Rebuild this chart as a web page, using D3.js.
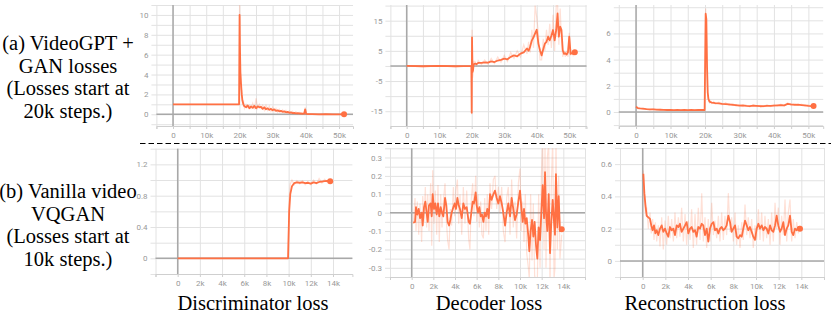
<!DOCTYPE html>
<html>
<head>
<meta charset="utf-8">
<script src="https://cdn.jsdelivr.net/npm/d3@7"></script>
<style>
  body { margin: 0; background: #fff; }
  .tick text { font-family: Roboto, sans-serif; font-size: 8px; fill: #999; }
  .serif { font-family: "Liberation Serif", "Times New Roman", serif; fill: #000; }
</style>
</head>
<body>
<svg id="chart" width="831" height="319"></svg>
<script>
// ---- data (steps in thousands) ----
// (a) VideoGPT + GAN losses
var discGanSteps = [0, 5, 10, 15, 19.9, 20.05, 20.15, 20.3, 20.5, 20.7, 20.9, 21.2, 21.5,
  22, 22.5, 23, 23.5, 24, 24.5, 25, 25.5, 26, 26.5, 27, 27.5, 28, 28.5, 29, 29.5, 30, 30.5,
  31, 31.5, 32, 32.5, 33, 33.5, 34, 34.5, 35, 35.5, 36, 36.5, 37, 37.5, 38, 38.5, 39, 39.5,
  39.8, 40.1, 41, 42, 44, 46, 48, 50, 51.5];
var discGanSmooth = [1.0, 1.0, 1.0, 1.0, 1.0, 10.0, 7.0, 4.2, 3.0, 2.0, 1.4, 1.0, 0.8,
  0.7, 0.9, 0.6, 0.8, 0.65, 0.85, 0.6, 0.8, 0.7, 0.75, 0.55, 0.7, 0.5, 0.6, 0.45, 0.55, 0.4, 0.5,
  0.35, 0.4, 0.3, 0.35, 0.25, 0.3, 0.2, 0.25, 0.15, 0.2, 0.12, 0.15, 0.1, 0.12, 0.08, 0.1, 0.05, 0.08,
  0.5, 0.05, 0.02, 0.01, 0.0, 0.01, 0.0, 0.0, 0.0];
var discGanRaw = [1.0, 1.0, 1.0, 1.0, 1.0, 11.5, 6.0, 4.5, 2.5, 2.4, 1.0, 1.4, 0.6,
  1.0, 0.7, 0.9, 0.6, 1.1, 0.5, 1.6, 0.6, 1.0, 0.6, 0.9, 0.4, 0.9, 0.4, 0.8, 0.3, 0.7, 0.3,
  0.6, 0.2, 0.5, 0.2, 0.45, 0.15, 0.4, 0.1, 0.35, 0.08, 0.3, 0.05, 0.25, 0.03, 0.2, 0.02, 0.15, 0.0,
  0.7, 0.0, 0.05, 0.0, 0.02, 0.0, 0.01, 0.0, 0.0];

var decGanSteps = [0, 5, 10, 15, 19.9, 20.0, 20.1, 20.25, 20.4, 20.6, 21, 21.5, 22,
  23, 24, 25, 26, 27, 28, 29, 30, 31, 32, 33, 34, 35, 36, 37,
  37.5, 38, 38.5, 39, 39.5, 40, 40.5, 41, 41.5, 42, 42.5, 43, 43.5, 44, 44.5, 45, 45.5, 46,
  46.4, 46.8, 47.2, 47.6, 48, 48.4, 48.8, 49.2, 49.6, 50, 50.4, 50.8, 51.2, 51.7];
var decGanSmooth = [0, -0.1, 0, -0.1, 0, -15.5, 9.5, -2, -1.5, 0.5, 0.8, 0.6, 1.0,
  1.0, 1.2, 1.1, 1.5, 1.3, 1.8, 2.0, 2.4, 2.2, 3.0, 3.5, 3.2, 4.1, 4.5, 5.8,
  5.0, 6.5, 8.5, 9.5, 10.8, 12, 7.4, 5.2, 3.5, 5.5, 7.4, 8.0, 9.7, 8.5, 10, 11.9, 8.5, 12,
  17.4, 9.7, 13, 12, 5.2, 4.0, 4.2, 3.8, 4.5, 9.7, 4.0, 4.2, 4.0, 4.5];
var decGanRaw = [0, -0.2, 0.1, -0.2, 0, -16, 12, -4, -3, 1.5, 1.5, 0.2, 1.8,
  0.5, 2, 0.6, 2.5, 0.8, 3, 1.2, 3.5, 1.5, 4.5, 2.5, 5, 3, 7, 4,
  8, 4.5, 12, 6, 20, 16, 11, 2, 2, 9, 5, 12, 7, 14, 6, 17, 5, 20,
  21, 7, 19, 9, 3, 5, 3, 5, 3, 11, 3.5, 5, 3.5, 5];

var recGanSteps = [0, 0.5, 1, 2, 3, 4, 5, 6, 7, 8, 9, 10, 11, 12, 13, 14, 15, 16, 17, 18, 19,
  19.9, 20.2, 20.4, 20.6, 20.8, 21.0, 21.3, 21.6, 22, 22.5,
  23, 24, 25, 26, 27, 28, 29, 30, 31, 32, 33, 34, 35, 36, 37, 38, 39, 40, 41, 42, 43, 44,
  45, 46, 47, 48, 49, 50, 51, 51.5];
var recGanSmooth = [0.4, 0.3, 0.28, 0.25, 0.22, 0.2, 0.2, 0.18, 0.17, 0.16, 0.15, 0.15, 0.14,
  0.15, 0.14, 0.15, 0.14, 0.15, 0.14, 0.15, 0.15,
  0.15, 7.5, 7.1, 3.5, 1.5, 1.0, 0.8, 0.75, 0.72, 0.7,
  0.68, 0.65, 0.62, 0.6, 0.58, 0.55, 0.52, 0.48, 0.5, 0.46, 0.45, 0.48, 0.46, 0.44, 0.45, 0.47,
  0.46, 0.48, 0.5, 0.52, 0.5, 0.62, 0.58, 0.55, 0.56, 0.53, 0.5, 0.47, 0.45, 0.46];
var recGanRaw = [0.45, 0.25, 0.32, 0.2, 0.26, 0.17, 0.23, 0.15, 0.2, 0.13, 0.18, 0.12, 0.17,
  0.12, 0.18, 0.11, 0.17, 0.12, 0.18, 0.12, 0.17,
  0.14, 7.9, 6.5, 2.8, 1.2, 0.9, 0.7, 0.85, 0.65, 0.8,
  0.6, 0.75, 0.55, 0.7, 0.5, 0.65, 0.45, 0.55, 0.42, 0.52, 0.4, 0.55, 0.42, 0.5, 0.4, 0.55,
  0.42, 0.55, 0.45, 0.6, 0.45, 0.7, 0.5, 0.65, 0.5, 0.6, 0.45, 0.55, 0.42, 0.5];

// (b) Vanilla video VQGAN
var discVqSteps = [0, 2, 4, 6, 8, 9.95, 10.05, 10.15, 10.3, 10.5, 10.75, 11, 11.25, 11.5,
  11.75, 12, 12.25, 12.5, 12.75, 13, 13.25, 13.5, 13.75];
var discVqSmooth = [0, 0, 0, 0, 0, 0, 0.6, 0.82, 0.92, 0.96, 0.97, 0.965, 0.97, 0.96,
  0.965, 0.955, 0.97, 0.96, 0.975, 0.98, 0.985, 0.99, 0.985];
var discVqRaw = [0, 0, 0, 0, 0, 0, 0.75, 0.95, 1.0, 0.94, 0.99, 0.95, 0.99, 0.94,
  0.98, 0.94, 1.0, 0.95, 1.02, 0.96, 1.01, 0.97, 1.0];

var decVqSteps = [0.15, 0.31, 0.40, 0.52, 0.65, 0.77, 0.92, 1.02, 1.14, 1.26,
  1.38, 1.48, 1.60, 1.75, 1.85, 1.94, 2.06, 2.18, 2.31, 2.43,
  2.55, 2.68, 2.80, 2.92, 3.08, 3.20, 3.32, 3.45, 3.57, 3.69,
  3.85, 3.97, 4.09, 4.22, 4.34, 4.46, 4.62, 4.77, 4.92, 5.08,
  5.26, 5.38, 5.51, 5.63, 5.75, 5.91, 6.00, 6.12, 6.25, 6.37,
  6.49, 6.62, 6.74, 6.86, 6.98, 7.11, 7.23, 7.38, 7.54, 7.69,
  7.85, 8.00, 8.15, 8.31, 8.46, 8.62, 8.77, 8.92, 9.08, 9.23,
  9.38, 9.54, 9.69, 9.85, 10.00, 10.12, 10.25, 10.37, 10.49, 10.62,
  10.77, 10.86, 10.98, 11.11, 11.23, 11.35, 11.48, 11.60, 11.72, 11.85,
  11.97, 12.09, 12.22, 12.31, 12.40, 12.52, 12.65, 12.77, 12.89, 13.02,
  13.14, 13.23, 13.32, 13.45, 13.57, 13.69, 13.85];
var decVqSmooth = [-0.055, -0.05, 0.03, -0.01, 0.02, -0.03, 0.0, -0.07, 0.03, 0.06,
  0.0, -0.05, 0.04, 0.05, -0.02, 0.1, 0.02, 0.05, -0.01, 0.05,
  -0.02, 0.03, 0.0, -0.02, 0.08, 0.04, -0.05, -0.07, -0.04, 0.0,
  0.03, 0.05, 0.02, 0.08, 0.04, 0.02, -0.03, 0.05, 0.02, 0.03,
  -0.05, -0.06, 0.0, 0.06, 0.05, 0.11, 0.04, 0.0, 0.03, -0.02,
  -0.01, -0.05, 0.0, -0.02, 0.02, -0.03, 0.1, 0.07, 0.1, 0.12,
  0.08, 0.05, 0.09, 0.05, 0.0, -0.07, 0.0, 0.05, -0.02, 0.08,
  0.02, -0.04, -0.01, 0.06, 0.12, 0.03, -0.05, 0.02, -0.06, -0.03,
  -0.13, -0.21, -0.1, -0.04, -0.13, -0.05, -0.18, -0.25, -0.08, -0.15,
  0.0, 0.15, -0.03, 0.22, 0.0, -0.1, 0.1, -0.22, -0.05, 0.07,
  -0.05, -0.12, 0.21, -0.08, 0.09, -0.1, -0.09];
var decVqRaw = [-0.06, 0.08, -0.1, 0.06, -0.12, 0.05, -0.16, 0.09, -0.05, 0.14,
  -0.08, 0.1, -0.1, 0.16, -0.18, 0.23, -0.06, 0.12, -0.12, 0.15,
  -0.16, 0.1, -0.08, 0.06, 0.16, -0.04, -0.15, -0.2, 0.02, -0.07,
  0.14, -0.02, 0.12, 0.18, -0.06, 0.1, -0.12, 0.14, -0.06, 0.12,
  -0.14, -0.2, 0.08, 0.16, -0.02, 0.2, -0.05, 0.1, -0.08, 0.06,
  -0.12, -0.14, 0.08, -0.1, 0.1, -0.12, 0.16, 0.02, 0.18, 0.2,
  0.02, 0.14, 0.0, 0.14, -0.1, -0.16, 0.08, 0.14, -0.12, 0.18,
  -0.08, 0.06, -0.14, 0.16, 0.24, -0.1, 0.06, -0.16, 0.1, -0.22,
  -0.3, -0.36, 0.1, -0.26, 0.05, -0.34, -0.4, -0.38, 0.1, -0.3,
  0.2, 0.4, -0.2, 0.4, -0.3, 0.3, 0.38, -0.4, 0.15, 0.4,
  -0.36, -0.3, 0.4, -0.2, 0.2, -0.25, -0.12];

var recVqSteps = [0.06, 0.15, 0.24, 0.35, 0.50, 0.65, 0.76, 0.88, 1.00, 1.12,
  1.24, 1.38, 1.53, 1.68, 1.82, 1.97, 2.12, 2.26, 2.41, 2.56,
  2.71, 2.85, 3.00, 3.15, 3.29, 3.44, 3.59, 3.74, 3.88, 4.03,
  4.18, 4.32, 4.47, 4.62, 4.76, 4.91, 5.06, 5.21, 5.35, 5.50,
  5.65, 5.79, 5.94, 6.09, 6.24, 6.38, 6.53, 6.68, 6.82, 6.97,
  7.12, 7.26, 7.41, 7.56, 7.71, 7.85, 8.00, 8.15, 8.29, 8.44,
  8.59, 8.74, 8.88, 9.03, 9.18, 9.32, 9.47, 9.62, 9.76, 9.91,
  10.06, 10.21, 10.35, 10.50, 10.65, 10.79, 10.94, 11.09, 11.24, 11.38,
  11.53, 11.68, 11.82, 11.97, 12.12, 12.26, 12.41, 12.56, 12.71, 12.85,
  13.00, 13.15, 13.29, 13.44, 13.59, 13.74, 13.88];
var recVqSmooth = [0.54, 0.42, 0.35, 0.28, 0.27, 0.26, 0.22, 0.19, 0.22, 0.17,
  0.19, 0.16, 0.2, 0.22, 0.18, 0.2, 0.17, 0.15, 0.21, 0.19,
  0.2, 0.16, 0.22, 0.21, 0.23, 0.18, 0.2, 0.22, 0.24, 0.17,
  0.2, 0.21, 0.18, 0.19, 0.15, 0.21, 0.2, 0.23, 0.22, 0.16,
  0.2, 0.12, 0.2, 0.23, 0.24, 0.19, 0.2, 0.17, 0.2, 0.21,
  0.19, 0.2, 0.22, 0.28, 0.24, 0.18, 0.2, 0.22, 0.15, 0.14,
  0.16, 0.15, 0.2, 0.25, 0.22, 0.19, 0.21, 0.18, 0.15, 0.13,
  0.2, 0.23, 0.2, 0.22, 0.19, 0.21, 0.2, 0.17, 0.22, 0.19,
  0.18, 0.22, 0.28, 0.22, 0.18, 0.2, 0.24, 0.16, 0.2, 0.22,
  0.28, 0.18, 0.16, 0.2, 0.19, 0.21, 0.2];
var recVqRaw = [0.56, 0.38, 0.3, 0.33, 0.2, 0.3, 0.17, 0.26, 0.13, 0.24,
  0.12, 0.22, 0.09, 0.27, 0.07, 0.25, 0.1, 0.28, 0.14, 0.26,
  0.12, 0.3, 0.14, 0.27, 0.15, 0.33, 0.12, 0.29, 0.1, 0.25,
  0.13, 0.32, 0.08, 0.29, 0.1, 0.33, 0.13, 0.42, 0.12, 0.27,
  0.08, 0.26, 0.12, 0.36, 0.16, 0.25, 0.14, 0.28, 0.12, 0.3,
  0.13, 0.28, 0.16, 0.42, 0.18, 0.27, 0.12, 0.3, 0.1, 0.22,
  0.08, 0.24, 0.13, 0.35, 0.16, 0.27, 0.14, 0.26, 0.08, 0.22,
  0.13, 0.32, 0.13, 0.3, 0.12, 0.28, 0.14, 0.26, 0.1, 0.3,
  0.12, 0.36, 0.2, 0.33, 0.1, 0.28, 0.16, 0.38, 0.12, 0.3,
  0.38, 0.12, 0.26, 0.14, 0.24, 0.17, 0.22];

// tick labels
var topXLabels = [0, 10, 20, 30, 40, 50];
var bottomXLabels = [0, 2, 4, 6, 8, 10, 12, 14];
var discGanYLabels = [0, 2, 4, 6, 8, 10];
var decGanYLabels = [-15, -5, 5, 15];
var recGanYLabels = [0, 2, 4, 6];
var discVqYLabels = [0, 0.4, 0.8, 1.2];
var decVqYLabels = [-0.3, -0.2, -0.1, 0, 0.1, 0.2, 0.3];
var recVqYLabels = [0, 0.2, 0.4, 0.6];

var rowLabelsA = ["(a) VideoGPT +", "GAN losses", "(Losses start at", "20k steps.)"];
var rowLabelsB = ["(b) Vanilla video", "VQGAN", "(Losses start at", "10k steps.)"];
var titles = ["Discriminator loss", "Decoder loss", "Reconstruction loss"];

var color = "#ff7043";

var svg = d3.select("#chart");

var panels = [
  { steps: discGanSteps, smooth: discGanSmooth, raw: discGanRaw, xl: topXLabels, xStep: 5,
    yl: discGanYLabels, yStep: 1, left: 156.4, right: 353, top: 5, bottom: 126,
    xDom: [-5, 54.2], yDom: [-1.18, 11.0] },
  { steps: decGanSteps, smooth: decGanSmooth, raw: decGanRaw, xl: topXLabels, xStep: 5,
    yl: decGanYLabels, yStep: 5, left: 390.4, right: 586.5, top: 5, bottom: 126,
    xDom: [-5, 55.3], yDom: [-19.9, 20.2] },
  { steps: recGanSteps, smooth: recGanSmooth, raw: recGanRaw, xl: topXLabels, xStep: 5,
    yl: recGanYLabels, yStep: 1, left: 618.8, right: 823.2, top: 5, bottom: 126,
    xDom: [-5, 54.3], yDom: [-1.07, 8.17] },
  { steps: discVqSteps, smooth: discVqSmooth, raw: discVqRaw, xl: bottomXLabels, xStep: 2,
    yl: discVqYLabels, yStep: 0.2, left: 155.5, right: 352.4, top: 148.7, bottom: 274,
    xDom: [-2, 15.75], yDom: [-0.2, 1.4] },
  { steps: decVqSteps, smooth: decVqSmooth, raw: decVqRaw, xl: bottomXLabels, xStep: 2,
    yl: decVqYLabels, yStep: 0.05, left: 390, right: 585, top: 148.3, bottom: 277,
    xDom: [-2, 16], yDom: [-0.35, 0.35] },
  { steps: recVqSteps, smooth: recVqSmooth, raw: recVqRaw, xl: bottomXLabels, xStep: 2,
    yl: recVqYLabels, yStep: 0.1, left: 620, right: 824, top: 148, bottom: 277,
    xDom: [-2, 16], yDom: [-0.1, 0.7] }
];

function gridVals(dom, step) {
  var lo = Math.ceil(dom[0] / step - 1e-6), hi = Math.floor(dom[1] / step + 1e-6);
  return d3.range(lo, hi + 1).map(function(i) { return +(i * step).toFixed(4); });
}

function hasLabel(list, d) {
  return list.some(function(v) { return Math.abs(v - d) < 1e-6; });
}

panels.forEach(function(p, i) {
  var x = d3.scaleLinear().domain(p.xDom).range([p.left, p.right]);
  var y = d3.scaleLinear().domain(p.yDom).range([p.bottom, p.top]);
  var w = p.right - p.left, h = p.bottom - p.top;
  var g = svg.append("g");

  // vertical grid
  g.append("g")
    .attr("transform", `translate(0, ${p.bottom})`)
    .call(d3.axisBottom(x).tickValues(gridVals(p.xDom, p.xStep)).tickSize(-h).tickFormat(""))
    .call(s => s.select(".domain").remove())
    .call(s => s.selectAll(".tick line").attr("stroke", "#e2e2e2"));

  // horizontal grid + y labels
  g.append("g")
    .attr("transform", `translate(${p.left - 5}, 0)`)
    .call(d3.axisLeft(y).tickValues(gridVals(p.yDom, p.yStep)).tickSize(-(w + 5)).tickPadding(3)
      .tickFormat(d => hasLabel(p.yl, d) ? String(+d.toFixed(2)) : ""))
    .call(s => s.select(".domain").remove())
    .call(s => s.selectAll(".tick line").attr("stroke", "#e2e2e2"));

  // x axis with labels
  g.append("g")
    .attr("transform", `translate(0, ${p.bottom})`)
    .call(d3.axisBottom(x).tickValues(gridVals(p.xDom, p.xStep)).tickSize(3).tickPadding(3)
      .tickFormat(d => hasLabel(p.xl, d) ? (d === 0 ? "0" : d + "k") : ""))
    .call(s => s.select(".domain").attr("stroke", "#cfcfcf"))
    .call(s => s.selectAll(".tick line").attr("stroke", "#cfcfcf"));

  // zero lines
  g.append("line")
    .attr("x1", x(0)).attr("x2", x(0)).attr("y1", p.top).attr("y2", p.bottom)
    .attr("stroke", "#a8a8a8").attr("stroke-width", 1.5);
  g.append("line")
    .attr("x1", p.left).attr("x2", p.right).attr("y1", y(0)).attr("y2", y(0))
    .attr("stroke", "#a8a8a8").attr("stroke-width", 1.5);

  svg.append("clipPath").attr("id", "clip" + i)
    .append("rect").attr("x", p.left).attr("y", p.top).attr("width", w).attr("height", h);

  var line = d3.line().x(d => x(d[0])).y(d => y(d[1]));
  var plot = g.append("g").attr("clip-path", `url(#clip${i})`);

  plot.append("path")
    .datum(d3.zip(p.steps, p.raw))
    .attr("d", line)
    .attr("fill", "none")
    .attr("stroke", color)
    .attr("stroke-opacity", 0.22)
    .attr("stroke-width", 1.2);

  plot.append("path")
    .datum(d3.zip(p.steps, p.smooth))
    .attr("d", line)
    .attr("fill", "none")
    .attr("stroke", color)
    .attr("stroke-width", 1.8)
    .attr("stroke-linejoin", "round");

  var n = Math.min(p.steps.length, p.smooth.length) - 1;
  g.append("circle")
    .attr("cx", x(p.steps[n]))
    .attr("cy", y(p.smooth[n]))
    .attr("r", 3)
    .attr("fill", color);
});

// row labels
function rowText(lines, baseline) {
  svg.append("text")
    .attr("class", "serif")
    .attr("font-family", "'Liberation Serif', 'Times New Roman', serif")
    .attr("font-size", 20.5)
    .attr("text-anchor", "middle")
    .selectAll("tspan")
    .data(lines)
    .enter()
    .append("tspan")
      .attr("x", 68)
      .attr("y", (d, i) => baseline + i * 22.5)
      .text(d => d);
}
rowText(rowLabelsA, 50);
rowText(rowLabelsB, 198);

// separator
svg.append("line")
  .attr("x1", 140).attr("x2", 831).attr("y1", 143.5).attr("y2", 143.5)
  .attr("stroke", "#000").attr("stroke-width", 1).attr("stroke-dasharray", "5.5,3");

// column titles
var titleX = [253, 489, 705];
svg.selectAll(".title")
  .data(titles)
  .enter()
  .append("text")
  .attr("class", "serif title")
  .attr("font-family", "'Liberation Serif', 'Times New Roman', serif")
  .attr("font-size", 20.5)
  .attr("text-anchor", "middle")
  .attr("x", (d, i) => titleX[i])
  .attr("y", 310)
  .text(d => d);
</script>
</body>
</html>
